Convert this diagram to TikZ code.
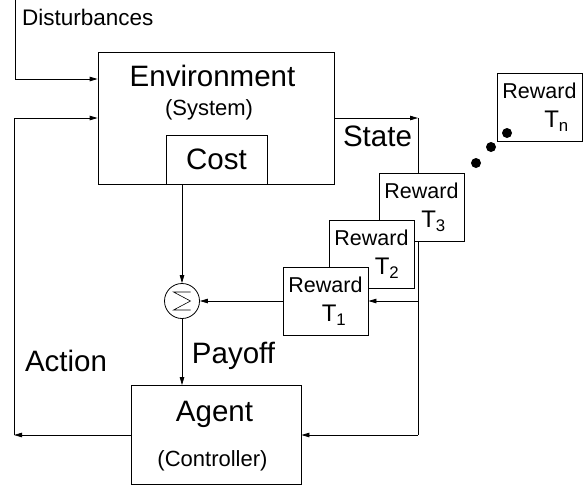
\documentclass[tikz,border=0pt]{standalone}
\usepackage{fontspec}
\setmainfont{Liberation Sans}
\usetikzlibrary{arrows.meta,backgrounds}

\newcommand{\fsz}[1]{\fontsize{#1}{1.2\dimexpr#1pt\relax}\selectfont}
\newcommand{\tstep}[2]{\hspace*{#1}{\fontsize{24}{29}\selectfont T\textsubscript{#2}}}

\begin{document}
\begin{tikzpicture}[x=1pt, y=-1pt,
  blk/.style={draw, fill=white, line width=0.8pt, inner sep=0pt},
  rew/.style={blk, minimum width=85pt, minimum height=68pt, align=center,
              font=\fontsize{21.5}{29}\selectfont},
  big/.style={font=\fsz{29.5}, inner sep=0pt, anchor=base},
  sub/.style={font=\fsz{22}, inner sep=0pt, anchor=base},
  wire/.style={line width=0.8pt},
  arr/.style={wire, -{Triangle[length=8pt,width=4.5pt]}},
]
\useasboundingbox (0,0) rectangle (585,485);

%% ---- Environment with its cost block ----
\node[blk, minimum width=236pt, minimum height=132pt] (env) at (216,118) {};
\node[blk, minimum width=101pt, minimum height=49pt, font=\fsz{29.5}] (cost)
  at (216.5,159.5) {Cost};
\node[big] (envlbl) at (212.5,86) {Environment};
\node[sub] (syslbl) at (209,115) {(System)};

%% ---- Reward blocks (back to front) ----
\node[rew] (rn) at (539.5,107) {Reward\\\tstep{34pt}{n}};
\node[rew] (r3) at (421.5,207) {Reward\\\tstep{24pt}{3}};
\node[rew] (r2) at (371.5,254) {Reward\\\tstep{31pt}{2}};
\node[rew] (r1) at (325.5,301) {Reward\\\tstep{17pt}{1}};
\foreach \p in {(476,163),(491,147),(507,133)}
  \fill \p circle (5pt);

%% ---- Summing junction ----
\node[draw, circle, fill=white, line width=0.8pt, minimum size=35pt,
      inner sep=0pt] (sum) at (182,301) {};
\draw[line width=0.6pt] ([shift={(8.5,-9)}]sum.center)
  -- ++(-17,0) -- ++(17,9) -- ++(-17,9) -- ++(17,0);

%% ---- Agent ----
\node[blk, minimum width=170pt, minimum height=99pt] (agent) at (216,435) {};
\node[big] (agentlbl) at (214.5,421.5) {Agent};
\node[sub] (ctrllbl) at (212.5,466) {(Controller)};

%% ---- Signal names ----
\node[sub, font=\fsz{22.5}, anchor=base west] (distlbl) at (22,25) {Disturbances};
\node[big] (statelbl) at (377.5,146.5) {State};
\node[big] (actlbl) at (66,371.5) {Action};
\node[big] (paylbl) at (233.5,363) {Payoff};

%% ---- Connections ----
\begin{scope}[on background layer]
  \coordinate (dtop) at (15,0);
  \coordinate (dbend) at (15,79);
  \draw[arr] (dtop) -- (dbend) -- (env.west |- dbend);

  \coordinate (acorner) at (14,435);
  \draw[arr] (agent.west) -- (acorner);
  \draw[arr] (acorner) |- (env.west);

  \coordinate (scorner) at (418,118);
  \coordinate (sbottom) at (418,435);
  \draw[arr] (env.east) -- (scorner);
  \draw[wire] (scorner) -- (sbottom);
  \draw[arr] (sbottom) -- (agent.east);
  \draw[arr] (scorner |- r1.east) -- (r1.east);

  \draw[arr] (sum.north |- cost.south) -- (sum.north);
  \draw[arr] (r1.west) -- (sum.east);
  \draw[arr] (sum.south) -- (sum.south |- agent.north);
\end{scope}

\end{tikzpicture}
\end{document}
